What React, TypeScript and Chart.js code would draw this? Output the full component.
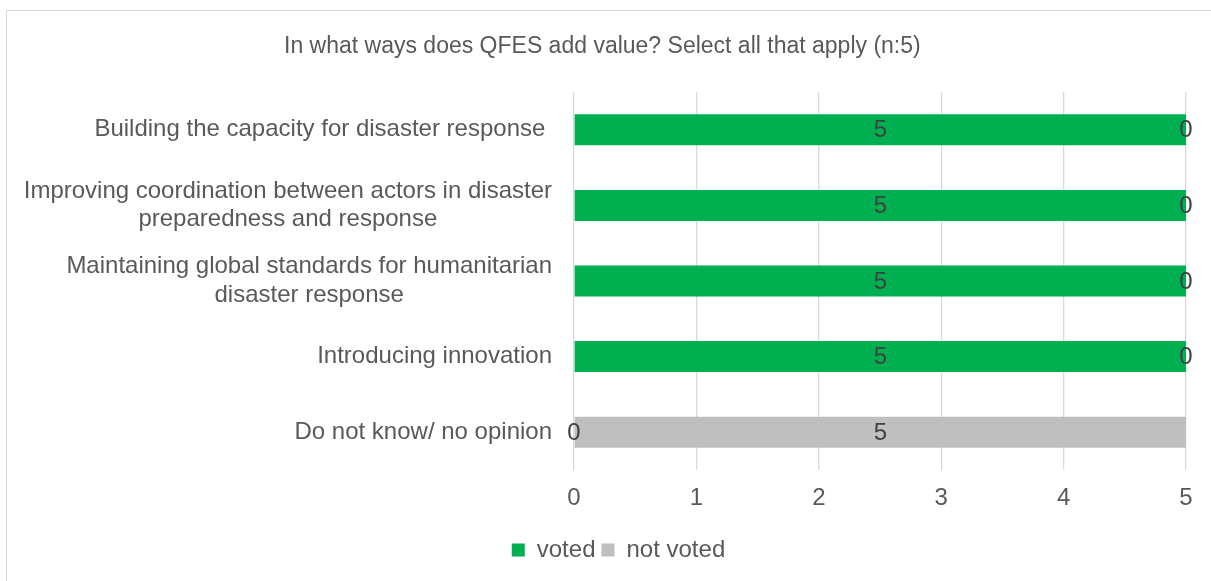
import React, { useEffect, useRef } from "react";
import { Chart, registerables } from "chart.js";

Chart.register(...registerables);

const TITLE = "In what ways does QFES add value? Select all that apply (n:5)";
const CATEGORIES: (string | string[])[] = [
  "Building the capacity for disaster response ",
  ["Improving coordination between actors in disaster", "preparedness and response"],
  ["Maintaining global standards for humanitarian", "disaster response"],
  "Introducing innovation",
  "Do not know/ no opinion",
];
const VOTED = [5, 5, 5, 5, 0];
const NOT_VOTED = [0, 0, 0, 0, 5];
const SERIES_NAMES = ["voted", "not voted"];
const X_MIN = 0;
const X_MAX = 5;

const FONT = '"Liberation Sans", Arial, sans-serif';
const TEXT = "#595959";

const titlePlugin = {
  id: "customTitle",
  afterDraw(chart: any) {
    const ctx = chart.ctx;
    ctx.save();
    ctx.font = `23px ${FONT}`;
    ctx.fillStyle = TEXT;
    ctx.textAlign = "left";
    ctx.textBaseline = "alphabetic";
    ctx.fillText(TITLE, 284, 53);
    ctx.restore();
  },
};

const categoryLabelPlugin = {
  id: "categoryLabels",
  afterDraw(chart: any) {
    const ctx = chart.ctx;
    const y = chart.scales.y;
    const rightEdge = chart.chartArea.left - 22;
    ctx.save();
    ctx.font = `24px ${FONT}`;
    ctx.fillStyle = TEXT;
    ctx.textBaseline = "middle";
    ctx.textAlign = "center";
    const lh = 28.8;
    CATEGORIES.forEach((lab, i) => {
      const lines = Array.isArray(lab) ? lab : [lab];
      const w = Math.max(...lines.map((l) => ctx.measureText(l).width));
      const cx = rightEdge - w / 2;
      const cy = y.getPixelForTick(i);
      lines.forEach((l, j) => {
        const ly = cy + (j - (lines.length - 1) / 2) * lh;
        if (lines.length === 1) {
          ctx.textAlign = "right";
          ctx.fillText(l, rightEdge, ly);
          ctx.textAlign = "center";
        } else {
          ctx.fillText(l, cx, ly);
        }
      });
    });
    ctx.restore();
  },
};

const dataLabelPlugin = {
  id: "dataLabels",
  afterDatasetsDraw(chart: any) {
    const ctx = chart.ctx;
    ctx.save();
    ctx.font = `24px ${FONT}`;
    ctx.fillStyle = "#404040";
    ctx.textAlign = "center";
    ctx.textBaseline = "middle";
    chart.data.datasets.forEach((ds: any, di: number) => {
      const meta = chart.getDatasetMeta(di);
      meta.data.forEach((bar: any, i: number) => {
        const x = (bar.x + bar.base) / 2;
        ctx.fillText(String(ds.data[i]), x, bar.y + 1);
      });
    });
    ctx.restore();
  },
};

export default function App() {
  const ref = useRef<HTMLCanvasElement | null>(null);
  useEffect(() => {
    if (!ref.current) return;
    const chart = new Chart(ref.current, {
      type: "bar",
      data: {
        labels: CATEGORIES.map((c) => (Array.isArray(c) ? c.join(" ") : c)),
        datasets: [
          {
            label: SERIES_NAMES[0],
            data: VOTED,
            backgroundColor: "#00B050",
            barPercentage: 0.41,
            categoryPercentage: 1,
          },
          {
            label: SERIES_NAMES[1],
            data: NOT_VOTED,
            backgroundColor: "#BFBFBF",
            barPercentage: 0.41,
            categoryPercentage: 1,
          },
        ],
      },
      options: {
        indexAxis: "y",
        responsive: false,
        animation: false,
        devicePixelRatio: 1,
        events: [],
        layout: { padding: { top: 92, left: 51, right: 25, bottom: 9 } },
        scales: {
          x: {
            stacked: true,
            min: X_MIN,
            max: X_MAX,
            border: { display: false },
            grid: { color: "#D9D9D9", lineWidth: 1.3, drawTicks: false },
            ticks: {
              stepSize: 1,
              padding: 14,
              color: TEXT,
              font: { family: FONT, size: 24 },
            },
            afterFit: (s: any) => {
              s.height = 62;
            },
          },
          y: {
            stacked: true,
            border: { display: false },
            grid: { display: false },
            ticks: { display: false },
            afterFit: (s: any) => {
              s.width = 523;
            },
          },
        },
        plugins: {
          title: { display: false },
          tooltip: { enabled: false },
          legend: {
            display: true,
            position: "bottom",
            labels: {
              boxWidth: 13,
              boxHeight: 13,
              padding: 6,
              color: TEXT,
              font: { family: FONT, size: 24 },
            },
          },
        },
      },
      plugins: [titlePlugin, categoryLabelPlugin, dataLabelPlugin],
    });
    return () => chart.destroy();
  }, []);

  return (
    <div
      style={{
        position: "fixed",
        left: 0,
        top: 0,
        width: 1211,
        height: 581,
        overflow: "hidden",
        background: "#fff",
      }}
    >
      <div
        style={{
          position: "absolute",
          left: 6,
          top: 10,
          width: 1300,
          height: 700,
          border: "1px solid #D9D9D9",
        }}
      />
      <canvas
        ref={ref}
        width={1211}
        height={581}
        style={{ position: "absolute", left: 0, top: 0, width: 1211, height: 581 }}
      />
    </div>
  );
}
